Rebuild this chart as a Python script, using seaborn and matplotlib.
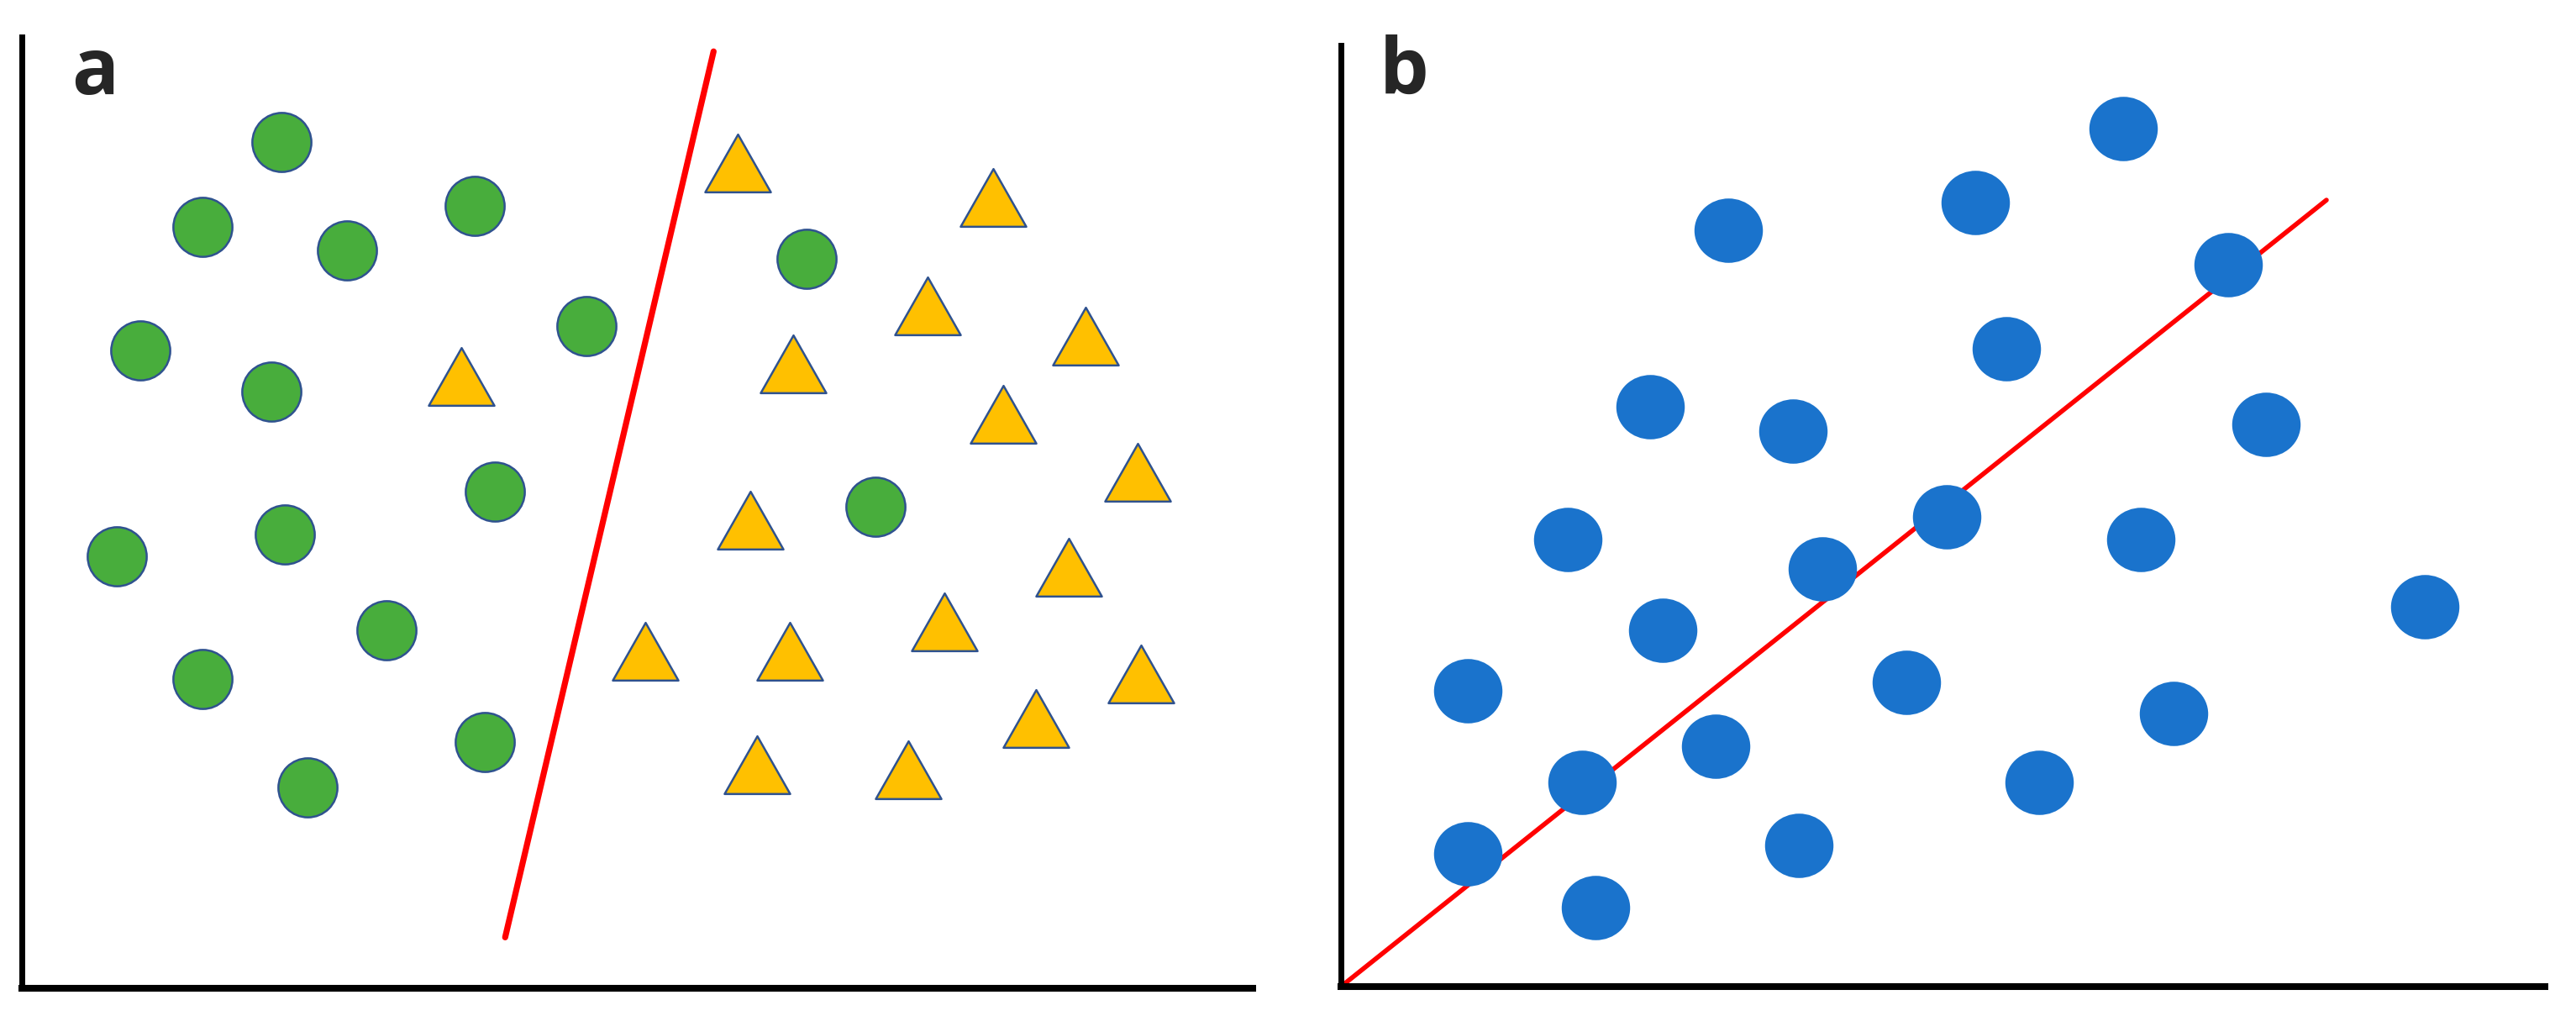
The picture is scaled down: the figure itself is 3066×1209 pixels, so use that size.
import numpy as np
import matplotlib
matplotlib.use("Agg")
import matplotlib.pyplot as plt
from matplotlib.path import Path
from matplotlib.markers import MarkerStyle
from matplotlib.transforms import Affine2D
import seaborn as sns

# panel a: two classes split by a line (values in panel units, origin at the axes corner)
green_x = [158, 110, 198, 276, 72, 152, 344, 478, 288, 58, 160, 222, 110, 282, 174, 520]
green_y = [515, 463, 449, 476, 388, 363, 403, 444, 302, 263, 276, 218, 188, 150, 122, 293]
tri_x = [436, 592, 552, 648, 470, 268, 598, 680, 444, 638, 562, 380, 468, 682, 618, 448, 540]
tri_y = [502, 481, 415, 397, 380, 372, 349, 314, 285, 256, 223, 205, 205, 191, 164, 136, 133]
split_x = [294.5, 421.5]
split_y = [31, 570]

# panel b: cloud of points with a fitted line
blue_x = [476, 386, 236, 540, 405, 188, 275, 563, 138, 369, 487, 293,
          196, 660, 77, 344, 507, 228, 147, 425, 77, 279, 155]
blue_y = [522, 477, 460, 439, 388, 353, 338, 342, 272, 286, 272, 254,
          217, 231, 180, 185, 166, 146, 124, 124, 81, 86, 48]
fit_x = [0, 600]
fit_y = [0, 478.5]

sns.set_style("white")
plt.rcParams['font.family'] = ['Open Sans', 'DejaVu Sans']

W, H, DPI = 3066, 1209, 200
fig = plt.figure(figsize=(W / DPI, H / DPI), dpi=DPI)

ax_a = fig.add_axes([26 / W, 1 - 1176 / H, (1491 - 26) / W, (1176 - 44) / H])
ax_b = fig.add_axes([1596 / W, 1 - 1174 / H, (3029 - 1596) / W, (1174 - 54) / H])

# marker shapes
tri_path = Path([(0, 0.88), (-1, -0.88), (1, -0.88), (0, 0.88)],
                [Path.MOVETO, Path.LINETO, Path.LINETO, Path.CLOSEPOLY])
tri_marker = MarkerStyle(tri_path)
ell_path = Path.unit_circle().transformed(Affine2D().scale(1, 0.94))
ell_marker = MarkerStyle(ell_path)

edge = "#2F528F"

sns.lineplot(x=split_x, y=split_y, color="#FF0000", linewidth=2.6,
             sort=False, ax=ax_a, zorder=1)
sns.scatterplot(x=green_x, y=green_y, marker="o", s=640, color="#48AD3C",
                edgecolor=edge, linewidth=0.9, ax=ax_a, zorder=3)
sns.scatterplot(x=tri_x, y=tri_y, marker=tri_marker, s=790, color="#FFC000",
                edgecolor=edge, linewidth=0.9, ax=ax_a, zorder=3)
ax_a.set_xlim(0, 750)
ax_a.set_ylim(0, 578.8)

sns.lineplot(x=fit_x, y=fit_y, color="#FF0000", linewidth=2.0,
             sort=False, ax=ax_b, zorder=1)
sns.scatterplot(x=blue_x, y=blue_y, marker=ell_marker, s=860, color="#1A73CC",
                linewidth=0, ax=ax_b, zorder=3)
ax_b.set_xlim(0, 733)
ax_b.set_ylim(0, 572.6)

for ax in (ax_a, ax_b):
    sns.despine(ax=ax)
    ax.set_facecolor("none")
    ax.set_xticks([])
    ax.set_yticks([])
    ax.set_xlabel("")
    ax.set_ylabel("")
    ax.spines["left"].set_linewidth(2.5)
    ax.spines["bottom"].set_linewidth(2.9)
    for side in ("left", "bottom"):
        ax.spines[side].set_color("black")
        ax.spines[side].set_capstyle("projecting")
    if ax.get_legend() is not None:
        ax.get_legend().remove()

fig.text(85 / W, 1 - 112 / H, "a", fontsize=33.5, fontweight="bold",
         ha="left", va="baseline")
fig.text(1642 / W, 1 - 112 / H, "b", fontsize=33.5, fontweight="bold",
         ha="left", va="baseline")

fig.savefig("out.png", dpi=DPI, facecolor="white")
